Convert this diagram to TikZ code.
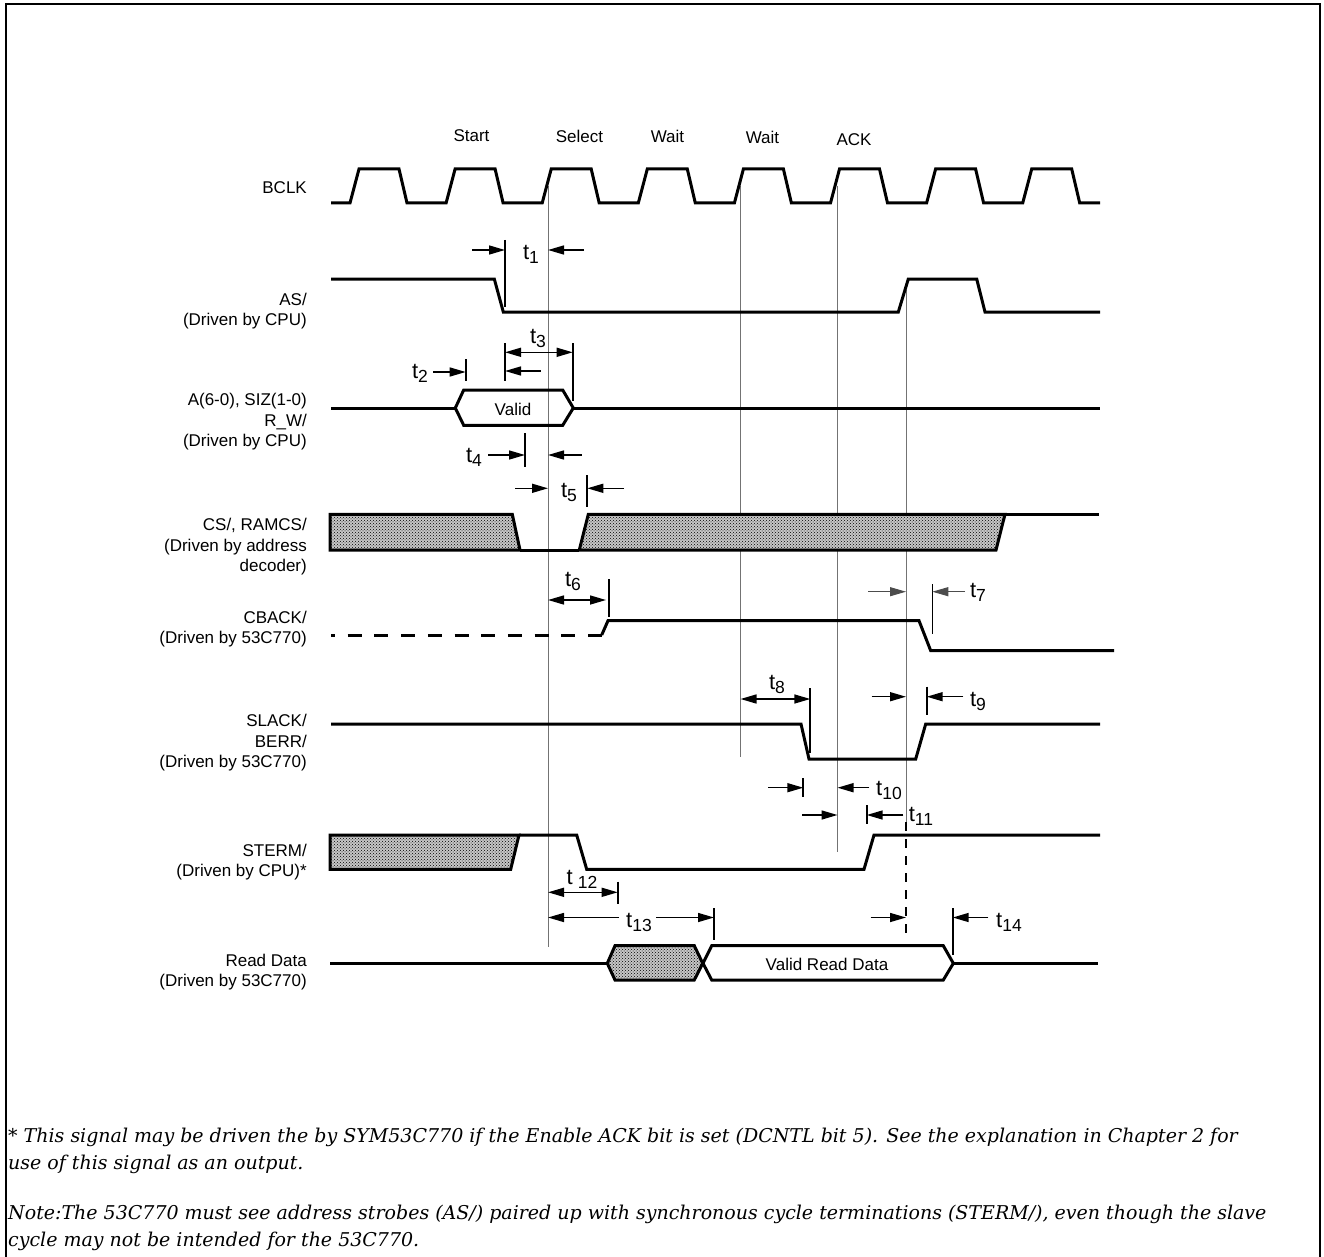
\documentclass[tikz,border=0pt]{standalone}
\usepackage{fontspec}
\setmainfont{Liberation Sans}
\newfontfamily\notefont{DejaVu Serif}
\usetikzlibrary{arrows.meta,patterns}
\newcommand\tlab[1]{t\raisebox{-4pt}{\fontsize{17.5}{17.5}\selectfont #1}}
\begin{document}
\begin{tikzpicture}[x=1pt,y=-1pt,
  sig/.style={line width=3pt,line join=miter},
  refl/.style={line width=1pt,black!55},
  tick/.style={line width=2pt},
  dimr/.style={line width=1.5pt,-{Triangle[length=16pt,width=9pt]}},
  dimb/.style={line width=1.5pt,{Triangle[length=16pt,width=9pt]}-{Triangle[length=16pt,width=9pt]}},
  shade/.style={preaction={fill=black!22},pattern=crosshatch dots,pattern color=black},
  lbl/.style={font=\fontsize{17}{20.5}\selectfont,align=right,anchor=east,inner sep=0pt},
  clk/.style={font=\fontsize{17}{20}\selectfont,inner sep=0pt},
  tl/.style={font=\fontsize{22}{22}\selectfont,inner sep=0pt},
  note/.style={font=\notefont\itshape\fontsize{19}{24}\selectfont,anchor=west,inner sep=0pt}]
\useasboundingbox (0,0) rectangle (1324,1257);
% frame
\draw[line width=1.5pt] (6,1258) -- (6,4) -- (1320,4) -- (1320,1258);

% reference lines
\draw[refl] (548,186) -- (548,947);
\draw[refl] (740.5,186) -- (740.5,757);
\draw[refl] (837.5,186) -- (837.5,852);
\draw[refl] (906,290) -- (906,822);
\draw[line width=1.5pt,dash pattern=on 9pt off 8pt] (906,822) -- (906,937);

% clock labels
\node[clk] (lstart) at (471.5,136) {Start};
\node[clk] (lselect) at (579.5,136) {Select};
\node[clk] (lwait1) at (667.5,136) {Wait};
\node[clk] (lwait2) at (762.5,137) {Wait};
\node[clk] (lack) at (854,139.5) {ACK};

% signal labels
\node[lbl] (nbclk) at (307,188) {BCLK};
\node[lbl] (nas) at (307,311) {AS/\\(Driven by CPU)};
\node[lbl] (naddr) at (307,422) {A(6-0), SIZ(1-0)\\R\_W/\\(Driven by CPU)};
\node[lbl] (ncs) at (307,547) {CS/, RAMCS/\\(Driven by address\\decoder)};
\node[lbl] (ncback) at (307,629) {CBACK/\\(Driven by 53C770)};
\node[lbl] (nslack) at (307,743) {SLACK/\\BERR/\\(Driven by 53C770)};
\node[lbl] (nsterm) at (307,862) {STERM/\\(Driven by CPU)*};
\node[lbl] (nread) at (307,972) {Read Data\\(Driven by 53C770)};

% BCLK
\draw[sig] (331,203) \foreach \k in {0,...,7} { -- ({350+96.1*\k},203) -- ({359+96.1*\k},169) -- ({399+96.1*\k},169) -- ({407+96.1*\k},203) } -- (1100,203);

% AS/
\draw[sig] (331,279) -- (494.3,279) -- (503.3,312) -- (898.3,312) -- (908.3,279) -- (976.7,279) -- (985,312) -- (1100,312);

% A(6-0)
\draw[sig] (331,408) -- (455.3,408);
\draw[sig] (455.3,408) -- (463.7,390) -- (562.7,390) -- (573.3,408) -- (562.7,425.3) -- (463.7,425.3) -- cycle;
\draw[sig] (573.3,408) -- (1100,408);
\node[clk] (lvalid) at (513,409) {Valid};

% CS/
\draw[sig,shade] (330,514.3) -- (512.3,514.3) -- (520,550) -- (330,550) -- cycle;
\draw[sig] (520,550) -- (579.3,550);
\draw[sig,shade] (579.3,550) -- (588.3,514.3) -- (1005,514.3) -- (996,550) -- cycle;
\draw[sig] (1005,514.3) -- (1099,514.3);

% CBACK/
\draw[sig,dash pattern=on 14pt off 12.7pt,dash phase=10pt] (331,635) -- (601.7,635);
\draw[sig] (601.7,635) -- (608,620.7) -- (919,620.7) -- (930.7,650.7) -- (1114,650.7);

% SLACK/
\draw[sig] (331,724) -- (801,724) -- (809,759) -- (915.7,759) -- (925.7,724) -- (1100,724);

% STERM/
\draw[sig,shade] (330,835) -- (519,835) -- (510.7,869.3) -- (330,869.3) -- cycle;
\draw[sig] (519,835) -- (576.7,835) -- (586.7,869.3) -- (864,869.3) -- (874,835) -- (1100,835);

% Read Data
\draw[sig] (330,963.3) -- (607.3,963.3);
\draw[sig,shade] (607.3,963.3) -- (615,945.7) -- (694.3,945.7) -- (702.7,963.3) -- (694.3,980) -- (615,980) -- cycle;
\draw[sig] (703,963.3) -- (711.7,945.7) -- (943.3,945.7) -- (953.3,963.3) -- (943.3,980) -- (711.7,980) -- cycle;
\draw[sig] (953.3,963.3) -- (1098,963.3);
\node[clk] (lvrd) at (827,964) {Valid Read Data};

% t1
\draw[tick] (505,240) -- (505,307);
\draw[dimr] (472,250) -- (505,250);
\draw[dimr] (584,250) -- (548,250);
\node[tl] (t1) at (531,254) {\tlab{1}};
% t2
\draw[tick] (465.7,359) -- (465.7,381);
\draw[dimr] (433,372) -- (465.7,372);
\node[tl] (t2) at (420,373) {\tlab{2}};
% t3
\draw[tick] (505,343) -- (505,381);
\draw[tick] (572.7,343) -- (572.7,401);
\draw[dimb] (505,352.3) -- (572.7,352.3);
\draw[dimr] (540.7,371) -- (505,371);
\node[tl] (t3) at (538,338) {\tlab{3}};
% t4
\draw[tick] (525,433) -- (525,467);
\draw[dimr] (488,455) -- (525,455);
\draw[dimr] (581.7,455) -- (548,455);
\node[tl] (t4) at (474,457) {\tlab{4}};
% t5
\draw[dimr] (515,488.3) -- (548,488.3);
\draw[tick] (587.3,475) -- (587.3,507);
\draw[dimr] (624,488.3) -- (587.3,488.3);
\node[tl] (t5) at (569,492) {\tlab{5}};
% t6
\draw[dimb] (548,600) -- (606,600);
\draw[tick] (609.3,579) -- (609.3,617);
\node[tl] (t6) at (573,581) {\tlab{6}};
% t7
\draw[dimr,black!70,line width=1pt] (868.3,591.7) -- (906,591.7);
\draw[line width=1pt] (932.3,584) -- (932.3,634);
\draw[dimr,black!70,line width=1pt] (965,591.7) -- (932.3,591.7);
\node[tl] (t7) at (978,592) {\tlab{7}};
% t8
\draw[dimb] (740.5,699) -- (810.3,699);
\draw[tick] (810.3,688) -- (810.3,753);
\node[tl] (t8) at (777,684) {\tlab{8}};
% t9
\draw[dimr] (871.7,696.7) -- (906,696.7);
\draw[tick] (926.7,686.7) -- (926.7,715);
\draw[dimr] (963.3,696.7) -- (926.7,696.7);
\node[tl] (t9) at (978,701) {\tlab{9}};
% t10
\draw[dimr] (768.3,787.7) -- (803.3,787.7);
\draw[tick] (803.3,778.3) -- (803.3,796.7);
\draw[dimr] (869.3,787.7) -- (837.5,787.7);
\node[tl] (t10) at (889,790) {\tlab{10}};
% t11
\draw[dimr] (802.3,815) -- (837.5,815);
\draw[tick] (866.7,805) -- (866.7,824.3);
\draw[dimr] (903.3,815) -- (866.7,815);
\node[tl] (t11) at (921,816) {\tlab{11}};
% t12
\draw[dimb] (548,892.3) -- (617.7,892.3);
\draw[tick] (617.7,881.7) -- (617.7,904);
\node[tl] (t12) at (582,879) {t\hspace{5pt}\raisebox{-4pt}{\fontsize{17.5}{17.5}\selectfont 12}};
% t13
\draw[dimr] (619,917.5) -- (548,917.5);
\draw[dimr] (656,917.5) -- (714,917.5);
\draw[tick] (714,908.3) -- (714,940);
\node[tl] (t13) at (639,922) {\tlab{13}};
% t14
\draw[dimr] (870.7,917.5) -- (906,917.5);
\draw[tick] (952.7,908.3) -- (952.7,955);
\draw[dimr] (988.3,917.5) -- (952.7,917.5);
\node[tl] (t14) at (1009,922) {\tlab{14}};

% notes
\node[note] (n1) at (8,1137) {* This signal may be driven the by SYM53C770 if the Enable ACK bit is set (DCNTL bit 5). See the explanation in Chapter 2 for};
\node[note] (n2) at (8,1164) {use of this signal as an output.};
\node[note] (n3) at (8,1214) {Note:The 53C770 must see address strobes (AS/) paired up with synchronous cycle terminations (STERM/), even though the slave};
\node[note] (n4) at (8,1241) {cycle may not be intended for the 53C770.};
\end{tikzpicture}
\end{document}
